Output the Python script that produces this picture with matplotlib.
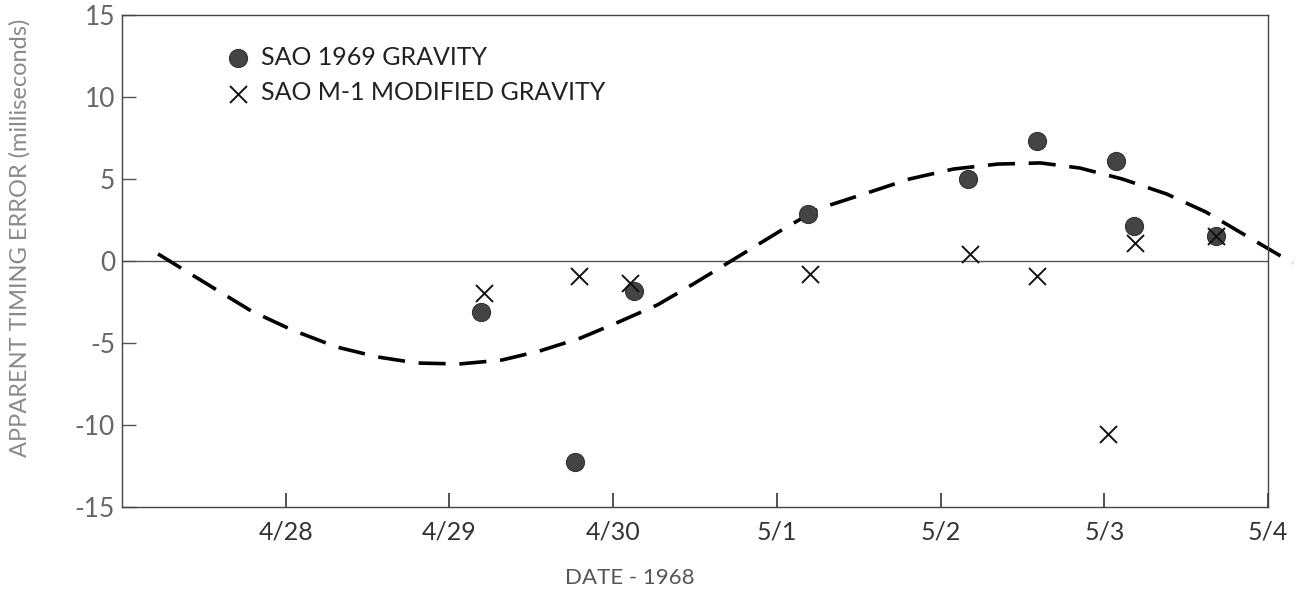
#!/usr/bin/env python3
import matplotlib
matplotlib.use("Agg")
import matplotlib.pyplot as plt

OUTPUT_FILE = "out.png"

# time axis: days after 4/27 00:00 (1968)
date_ticks = [1, 2, 3, 4, 5, 6, 7]
date_labels = ['4/28', '4/29', '4/30', '5/1', '5/2', '5/3', '5/4']

# SAO 1969 gravity model residuals (ms)
grav_day = [2.19, 2.77, 3.13, 4.19, 5.17, 5.59, 6.07, 6.18, 6.68]
grav_ms = [-3.1, -12.26, -1.83, 2.87, 5.0, 7.32, 6.1, 2.13, 1.52]

# SAO M-1 modified gravity residuals (ms)
mod_day = [2.21, 2.79, 3.10, 4.20, 5.18, 5.59, 6.02, 6.19, 6.68]
mod_ms = [-1.95, -0.91, -1.34, -0.81, 0.41, -0.9, -10.55, 1.10, 1.52]

# hand-fitted trend through the 1969 gravity residuals
fit_day = [0.22, 0.56, 0.79, 1.04, 1.31, 1.56, 1.80, 2.06, 2.32, 2.55,
           2.80, 3.02, 3.27, 3.49, 3.74, 4.02, 4.25, 4.57, 4.81, 5.08,
           5.35, 5.61, 5.85, 6.11, 6.38, 6.62, 6.87, 7.15]
fit_ms = [0.43, -1.65, -3.05, -4.21, -5.24, -5.85, -6.22, -6.28, -6.04, -5.49,
          -4.70, -3.78, -2.68, -1.40, 0.12, 1.83, 3.17, 4.21, 5.00, 5.61,
          5.91, 5.98, 5.67, 5.00, 4.09, 2.99, 1.52, -0.12]

plt.rcParams['font.family'] = ['Lato', 'DejaVu Sans']

fig = plt.figure(figsize=(12.97, 5.91), dpi=100)
ax = fig.add_axes([122 / 1297, 1 - 507 / 591, (1268 - 122) / 1297, (507 - 15) / 591])

ax.axhline(0, color='#555555', linewidth=1.0, zorder=1)

ax.plot(fit_day, fit_ms, color='black', linewidth=2.6,
        linestyle=(0, (7.5, 3.8)), clip_on=False, zorder=2)

ax.scatter(grav_day, grav_ms, s=170, marker='o', color='#444444',
           edgecolors='#333333', linewidths=0.8, zorder=3,
           label='SAO 1969 GRAVITY')
ax.scatter(mod_day, mod_ms, s=150, marker='x', color='#111111',
           linewidths=1.4, zorder=4, label='SAO M-1 MODIFIED GRAVITY')

ax.set_xlim(0, 7)
ax.set_ylim(-15, 15)
ax.set_xticks(date_ticks)
ax.set_xticklabels(date_labels)
ax.set_yticks([-15, -10, -5, 0, 5, 10, 15])
ax.set_yticklabels(['-15', '-10', '-5', '0', '5', '10', '15'])

ax.tick_params(axis='x', direction='in', length=10, width=1.2, color='#333333',
               pad=10, labelsize=18, labelcolor='#333333')
ax.tick_params(axis='y', direction='in', length=10, width=1.0, color='#555555',
               pad=5, labelsize=19, labelcolor='#666666')

for side in ['left', 'right', 'top', 'bottom']:
    ax.spines[side].set_color('#444444')
    ax.spines[side].set_linewidth(1.0)

fig.text(630 / 1297, 1 - 578 / 591, 'DATE - 1968', ha='center', va='center',
         fontsize=16, color='#555555')
fig.text(20 / 1297, 1 - 238 / 591, 'APPARENT TIMING ERROR (milliseconds)',
         rotation=90, ha='center', va='center', fontsize=17,
         color='#8a8a8a')

ax.legend(loc='upper left', bbox_to_anchor=(227 / 1297, 1 - 46 / 591),
          bbox_transform=fig.transFigure, frameon=False, fontsize=18,
          handlelength=0.9, handletextpad=0.45, labelspacing=0.5,
          borderpad=0, borderaxespad=0, scatterpoints=1,
          labelcolor='#222222')

fig.savefig(OUTPUT_FILE, dpi=100)
